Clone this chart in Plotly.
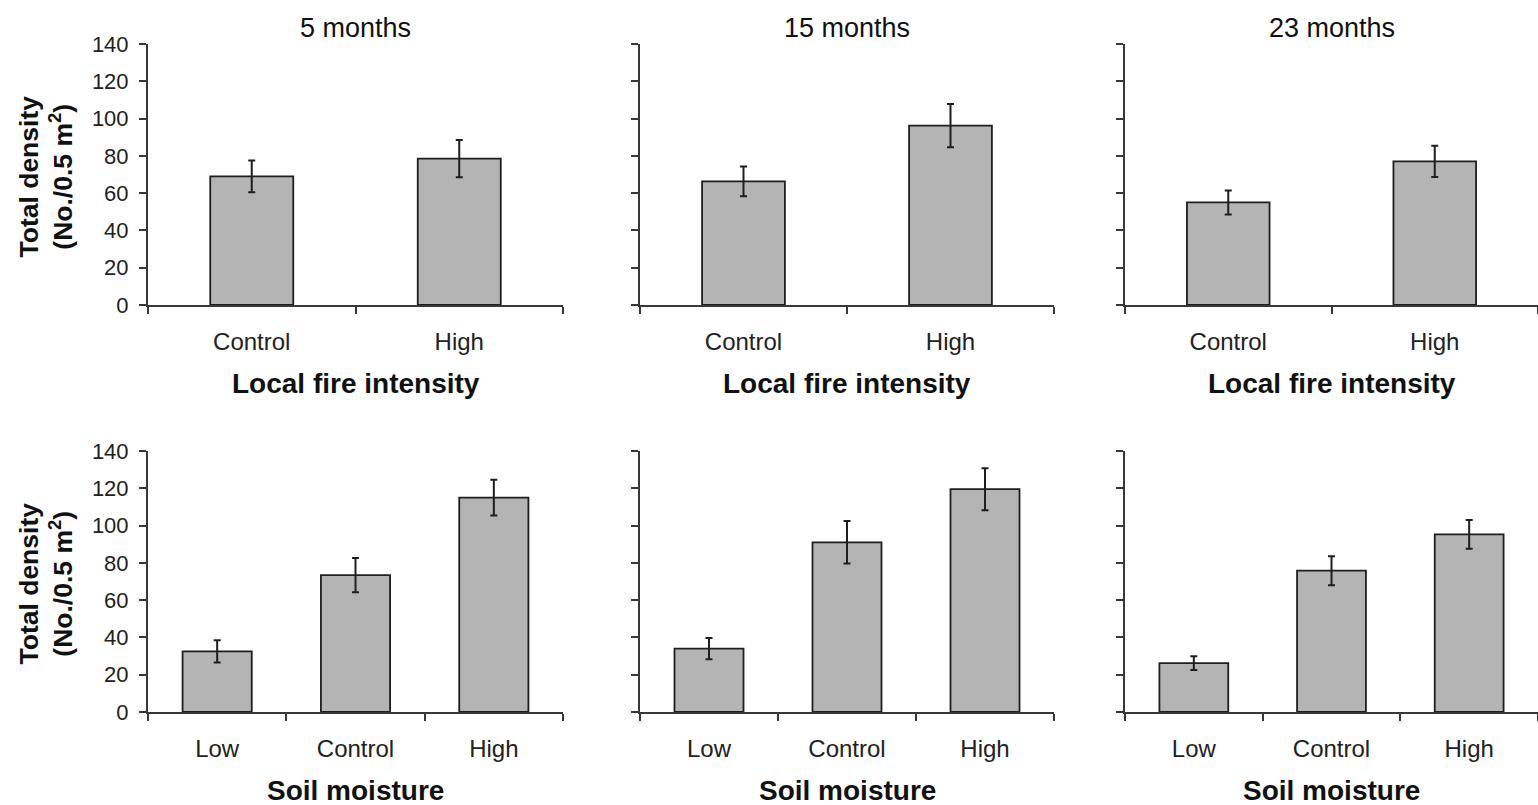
import plotly.graph_objects as go

# Total density (No./0.5 m2) means and standard errors
months = ["5 months", "15 months", "23 months"]

fire_levels = ["Control", "High"]
fire_mean = [[69, 78.5], [66.3, 96.2], [55, 77]]
fire_se = [[8.5, 10], [8, 11.6], [6.4, 8.4]]

moisture_levels = ["Low", "Control", "High"]
moisture_mean = [[32.5, 73.4, 115], [34, 91, 119.5], [26.2, 75.8, 95.3]]
moisture_se = [[6, 9.2, 9.6], [5.7, 11.4, 11.3], [3.7, 7.8, 7.7]]

W, H = 1538, 805
FONT = "Liberation Sans, Arial, sans-serif"
AXIS_COLOR = "#383838"
BAR_FILL = "#b4b4b4"
EDGE = "#1e1e1e"

# panel extents in pixels (left, right) and (top, bottom)
col_px = [(148, 563), (640, 1054), (1125, 1538)]
row_px = [(44, 305), (451, 712)]


def px_x(v):
    return v / W


def px_y(v):
    return 1 - v / H


fig = go.Figure()

rows = [
    (fire_levels, fire_mean, fire_se, 0.4, "Local fire intensity"),
    (moisture_levels, moisture_mean, moisture_se, 0.5, "Soil moisture"),
]

n = 0
for r, (levels, means, ses, bw, xlabel) in enumerate(rows):
    top, bottom = row_px[r]
    for c in range(3):
        n += 1
        xa = "x" if n == 1 else f"x{n}"
        ya = "y" if n == 1 else f"y{n}"
        fig.add_trace(go.Bar(
            x=levels, y=means[c], width=bw,
            marker=dict(color=BAR_FILL, line=dict(color=EDGE, width=1.8)),
            error_y=dict(type="data", array=ses[c], visible=True,
                         color=EDGE, thickness=2, width=3.5),
            xaxis=xa, yaxis=ya, showlegend=False,
        ))
        left, right = col_px[c]
        xkey = "xaxis" if n == 1 else f"xaxis{n}"
        ykey = "yaxis" if n == 1 else f"yaxis{n}"
        fig.layout[xkey] = dict(
            domain=[px_x(left), min(px_x(right), 1.0)],
            anchor=ya, type="category",
            showline=True, linecolor=AXIS_COLOR, linewidth=2,
            ticks="outside", tickson="boundaries", ticklen=7,
            tickcolor=AXIS_COLOR, tickwidth=2,
            showgrid=False, zeroline=False,
            tickfont=dict(family=FONT, size=24, color="#222222"),
            ticklabelstandoff=14,
        )
        fig.layout[ykey] = dict(
            domain=[px_y(bottom), px_y(top)],
            anchor=xa, range=[0, 140], dtick=20, tick0=0,
            showline=True, linecolor=AXIS_COLOR, linewidth=2,
            ticks="outside", ticklen=7, tickcolor=AXIS_COLOR, tickwidth=2,
            showgrid=False, zeroline=False,
            showticklabels=(c == 0),
            tickfont=dict(family=FONT, size=22, color="#222222"),
            ticklabelstandoff=6,
        )
        # x-axis title below each panel
        fig.add_annotation(
            x=px_x((left + right) / 2), y=px_y(bottom + 78),
            xref="paper", yref="paper", text=f"<b>{xlabel}</b>",
            showarrow=False, xanchor="center", yanchor="middle",
            font=dict(family=FONT, size=28, color="#111111"),
        )
        if r == 0:
            fig.add_annotation(
                x=px_x((left + right) / 2), y=px_y(28),
                xref="paper", yref="paper", text=months[c],
                showarrow=False, xanchor="center", yanchor="middle",
                font=dict(family=FONT, size=27, color="#111111"),
            )
    # y-axis title on the left panel of each row
    fig.add_annotation(
        x=px_x(45), y=px_y((top + bottom) / 2 + 2),
        xref="paper", yref="paper",
        text="<b>Total density<br>(No./0.5 m<sup>2</sup>)</b>",
        textangle=-90, showarrow=False, xanchor="center", yanchor="middle",
        font=dict(family=FONT, size=26.5, color="#111111"),
    )

fig.update_layout(
    width=W, height=H,
    margin=dict(l=0, r=0, t=0, b=0, autoexpand=False),
    paper_bgcolor="white", plot_bgcolor="white",
    bargap=0.5,
)

fig.write_html("out.html")
